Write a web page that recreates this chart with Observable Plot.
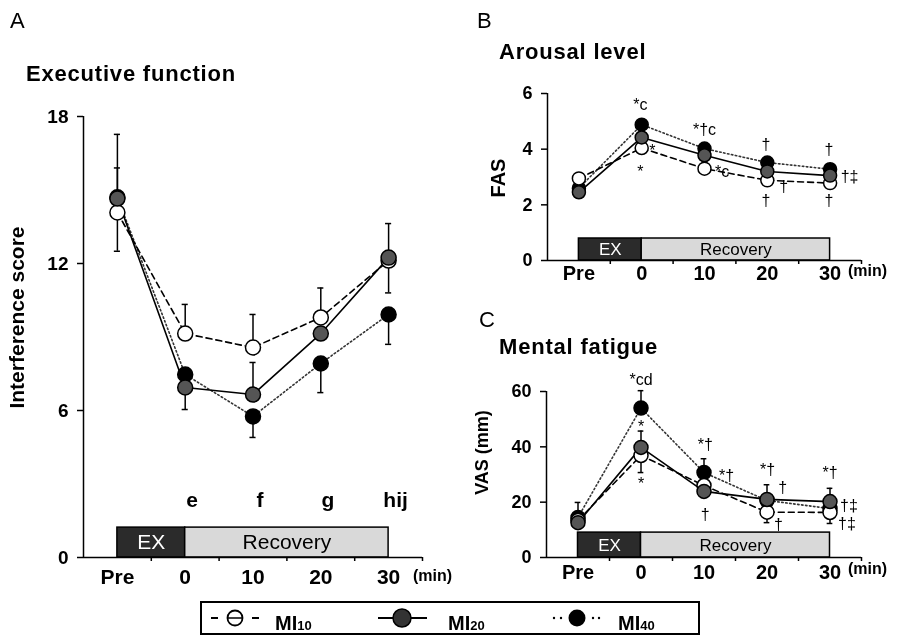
<!DOCTYPE html>
<html><head><meta charset="utf-8">
<script src="https://cdn.jsdelivr.net/npm/d3@7"></script>
<script src="https://cdn.jsdelivr.net/npm/@observablehq/plot@0.6"></script>
<style>
html,body{margin:0;padding:0;background:#fff;}
#root{position:relative;width:898px;height:636px;overflow:hidden;font-family:"Liberation Sans",Arial,sans-serif;color:#000;background:#fff;}
.abs{position:absolute;white-space:nowrap;line-height:1;}
.title{font-weight:bold;font-size:22px;letter-spacing:0.8px;}
.letter{font-size:22px;}
.unit{font-weight:bold;font-size:16px;}
.panel{position:absolute;will-change:transform;}
.panel svg{display:block;overflow:visible;}
.lg{font-weight:bold;font-size:20px;}
.lg sub{font-size:13px;vertical-align:baseline;position:relative;top:0;}
</style></head><body><div id="root"></div>
<script>
// ---------- shared categories ----------
const times = ["Pre", "0", "10", "20", "30"];
const series = ["MI10", "MI20", "MI40"];
const phaseLabels = ["EX", "Recovery"];
const phaseStart = [0, 1];
const phaseEnd = [1, 4];

// ---------- A: Executive function (Interference score) ----------
const aMI10 = [14.08, 9.14, 8.57, 9.80, 12.12];
const aMI20 = [14.65, 6.94, 6.65, 9.14, 12.24];
const aMI40 = [14.70, 7.47, 5.76, 7.92, 9.92];
const aUpMI10 = [null, 1.19, 1.35, 1.20, null];
const aDnMI10 = [1.58, null, null, null, 1.32];
const aUpMI20 = [1.25, null, 1.31, null, 1.39];
const aDnMI20 = [null, 0.90, null, null, null];
const aUpMI40 = [2.57, null, null, null, null];
const aDnMI40 = [null, null, 0.86, 1.19, 1.22];
const aLetters = ["", "e", "f", "g", "hij"];

// ---------- B: Arousal level (FAS) ----------
const bMI10 = [2.95, 4.04, 3.30, 2.88, 2.78];
const bMI20 = [2.45, 4.42, 3.78, 3.20, 3.05];
const bMI40 = [2.60, 4.88, 4.02, 3.52, 3.28];
const bNoteText = ["*c", "*", "*", "*†c", "*c", "†", "†", "†", "†", "†‡", "†"];
const bNoteX = [0.98, 1.17, 0.98, 2.0, 2.28, 2.98, 3.26, 2.98, 3.98, 4.31, 3.98];
const bNoteY = [5.6, 3.94, 3.2, 4.7, 3.2, 4.15, 2.66, 2.14, 3.97, 3.02, 2.15];

// ---------- C: Mental fatigue (VAS, mm) ----------
const cMI10 = [13.4, 36.9, 26.0, 16.4, 16.3];
const cMI20 = [12.6, 39.8, 23.9, 21.0, 20.2];
const cMI40 = [14.5, 54.0, 30.7, 20.6, 17.7];
const cUpMI10 = [null, null, null, null, null];
const cDnMI10 = [null, 6.2, 4.3, 3.8, 4.0];
const cUpMI20 = [null, 5.9, null, 5.3, 4.8];
const cDnMI20 = [null, null, null, null, null];
const cUpMI40 = [5.4, 6.3, 5.0, null, null];
const cDnMI40 = [null, null, null, null, null];
const cNoteText = ["*cd", "*", "*", "*†", "*†", "†", "*†", "†", "†", "*†", "†‡", "†‡"];
const cNoteX = [1.0, 1.0, 1.0, 2.02, 2.36, 2.02, 3.01, 3.25, 3.18, 4.0, 4.3, 4.27];
const cNoteY = [64.3, 47.3, 26.7, 40.8, 29.6, 15.4, 31.8, 25.1, 11.7, 30.7, 18.8, 12.3];

const FONT = '"Liberation Sans", Arial, sans-serif';
const root = document.getElementById("root");
const none5 = () => [null, null, null, null, null];

function makePanel(cfg) {
  const styles = [
    {fill: "white", dash: "6,4", stroke: "#000"},
    {fill: "#555", dash: null, stroke: "#000"},
    {fill: "#000", dash: "1.5,2.5", stroke: "#333"}
  ];
  const order = [2, 0, 1];
  const rows = k => cfg.values[k].map((v, i) => ({i, v, s: series[k]}));
  const errs = [];
  for (let k = 0; k < 3; k++) for (let i = 0; i < times.length; i++) {
    const v = cfg.values[k][i], u = cfg.up[k][i], d = cfg.dn[k][i];
    if (u != null) errs.push({i, y1: v, y2: v + u});
    if (d != null) errs.push({i, y1: v, y2: v - d});
  }
  const phases = phaseLabels.map((l, j) => ({label: l, x1: phaseStart[j], x2: phaseEnd[j]}));
  const marks = [
    Plot.rect(phases.slice(0, 1), {x1: "x1", x2: "x2", y1: 0, y2: cfg.barTop, fill: "#2b2b2b", stroke: "#000", strokeWidth: 1.5}),
    Plot.rect(phases.slice(1), {x1: "x1", x2: "x2", y1: 0, y2: cfg.barTop, fill: "#d9d9d9", stroke: "#000", strokeWidth: 1.5}),
    Plot.text(phases.slice(0, 1), {x: d => (d.x1 + d.x2) / 2, y: cfg.barTop / 2, text: "label", fill: "white", fontSize: cfg.barFont, lineAnchor: "middle"}),
    Plot.text(phases.slice(1), {x: d => (d.x1 + d.x2) / 2, y: cfg.barTop / 2, text: "label", fill: "#000", fontSize: cfg.barFont, lineAnchor: "middle"}),
    Plot.ruleX([-0.5], {stroke: "#000", strokeWidth: 1.5}),
    Plot.ruleY([0], {stroke: "#000", strokeWidth: 1.5}),
    Plot.axisY({ticks: cfg.yTicks, tickSize: 6, tickPadding: cfg.yPad, tickFormat: d => String(d), fontSize: cfg.yFont, fontWeight: "bold", label: null, strokeWidth: 1.5, fill: "#000"}),
    Plot.axisX({ticks: [0.5, 1.5, 2.5, 3.5, 4.5], tickSize: 4, tickFormat: () => "", label: null, strokeWidth: 1.5}),
    Plot.axisX({ticks: [0, 1, 2, 3, 4], tickSize: 0, tickPadding: cfg.xPad, tickFormat: i => times[i], fontSize: cfg.xFont, fontWeight: "bold", label: null, fill: "#000"})
  ];
  for (const k of order) marks.push(Plot.line(rows(k), {x: "i", y: "v", stroke: styles[k].stroke, strokeWidth: 1.6, strokeDasharray: styles[k].dash}));
  marks.push(Plot.ruleX(errs, {x: "i", y1: "y1", y2: "y2", stroke: "#000", strokeWidth: 1.5}));
  marks.push(Plot.ruleY(errs, {y: "y2", x1: d => d.i - 0.045, x2: d => d.i + 0.045, stroke: "#000", strokeWidth: 1.5}));
  for (const k of order) marks.push(Plot.dot(rows(k), {x: "i", y: "v", r: cfg.r, fill: styles[k].fill, stroke: "#000", strokeWidth: 1.5}));
  if (cfg.notes) marks.push(Plot.text(cfg.notes, {x: "x", y: "y", text: "t", fontSize: cfg.noteFont, fontWeight: cfg.noteWeight || "normal", lineAnchor: "middle", dx: cfg.noteDx || 0, fill: "#000"}));
  marks.push(Plot.text([cfg.ylabel], {frameAnchor: "left", text: d => d, rotate: -90, textAnchor: "middle", lineAnchor: "middle", dx: cfg.ylDx, dy: cfg.ylDy, fontSize: cfg.ylFont, fontWeight: "bold", fill: "#000"}));
  const svg = Plot.plot({
    width: cfg.width, height: cfg.height,
    marginTop: cfg.mt, marginBottom: cfg.mb, marginLeft: cfg.ml, marginRight: cfg.mr,
    x: {domain: [-0.5, 4.5]},
    y: {domain: cfg.yDomain},
    style: {fontFamily: FONT, background: "transparent", color: "#000", overflow: "visible"},
    marks
  });
  const div = document.createElement("div");
  div.className = "panel";
  div.style.left = cfg.left + "px"; div.style.top = cfg.top + "px";
  div.style.width = cfg.width + "px"; div.style.height = cfg.height + "px";
  div.appendChild(svg);
  root.appendChild(div);
}

// Panel A
makePanel({
  left: 0, top: 0, width: 450, height: 600, mt: 116, mb: 43, ml: 83, mr: 28,
  values: [aMI10, aMI20, aMI40],
  up: [aUpMI10, aUpMI20, aUpMI40], dn: [aDnMI10, aDnMI20, aDnMI40],
  yDomain: [0, 18], yTicks: [0, 6, 12, 18], yFont: 19, yPad: 9, xFont: 21, xPad: 12,
  barTop: 1.22, barFont: 21, r: 7.5,
  notes: aLetters.map((t, i) => ({x: i, y: 2.34, t})).filter(d => d.t), noteFont: 21, noteWeight: "bold", noteDx: 7,
  ylabel: "Interference score", ylDx: -66, ylDy: -19.5, ylFont: 21
});
// Panel B
makePanel({
  left: 450, top: 0, width: 448, height: 300, mt: 93, mb: 40, ml: 97, mr: 37,
  values: [bMI10, bMI20, bMI40],
  up: [none5(), none5(), none5()], dn: [none5(), none5(), none5()],
  yDomain: [0, 6], yTicks: [0, 2, 4, 6], yFont: 18, yPad: 9, xFont: 20, xPad: 5,
  barTop: 0.79, barFont: 17, r: 6.5,
  notes: bNoteText.map((t, j) => ({x: bNoteX[j], y: bNoteY[j], t})), noteFont: 16,
  ylabel: "FAS", ylDx: -49, ylDy: 1, ylFont: 20
});
// Panel C
makePanel({
  left: 450, top: 300, width: 448, height: 300, mt: 91, mb: 43, ml: 96, mr: 37,
  values: [cMI10, cMI20, cMI40],
  up: [cUpMI10, cUpMI20, cUpMI40], dn: [cDnMI10, cDnMI20, cDnMI40],
  yDomain: [0, 60], yTicks: [0, 20, 40, 60], yFont: 18, yPad: 9, xFont: 20, xPad: 7,
  barTop: 9.0, barFont: 17, r: 7,
  notes: cNoteText.map((t, j) => ({x: cNoteX[j], y: cNoteY[j], t})), noteFont: 16,
  ylabel: "VAS (mm)", ylDx: -64, ylDy: -22, ylFont: 18
});

// ---------- titles and labels ----------
function addText(txt, cls, left, top) {
  const d = document.createElement("div");
  d.className = "abs " + cls;
  d.style.left = left + "px"; d.style.top = top + "px";
  d.innerHTML = txt;
  root.appendChild(d);
}
addText("A", "letter", 10, 10);
addText("B", "letter", 477, 10);
addText("C", "letter", 479, 309);
addText("Executive function", "title", 26, 63);
addText("Arousal level", "title", 499, 41);
addText("Mental fatigue", "title", 499, 336);
addText("(min)", "unit", 413, 568);
addText("(min)", "unit", 848, 263);
addText("(min)", "unit", 848, 561);

// ---------- legend ----------
const lg = document.createElement("div");
lg.style.cssText = "position:absolute;left:200px;top:601px;width:500px;height:34px;border:2px solid #000;box-sizing:border-box;";
root.appendChild(lg);
const ns = "http://www.w3.org/2000/svg";
const icon = document.createElementNS(ns, "svg");
icon.setAttribute("width", 898); icon.setAttribute("height", 636);
icon.style.cssText = "position:absolute;left:0;top:0;pointer-events:none;";
function el(tag, attrs) { const e = document.createElementNS(ns, tag); for (const k in attrs) e.setAttribute(k, attrs[k]); icon.appendChild(e); return e; }
const cy = 618;
// MI10
el("line", {x1: 211, x2: 218, y1: cy, y2: cy, stroke: "#000", "stroke-width": 2});
el("line", {x1: 252, x2: 259, y1: cy, y2: cy, stroke: "#000", "stroke-width": 2});
el("circle", {cx: 235, cy, r: 7.5, fill: "white", stroke: "#000", "stroke-width": 1.8});
el("line", {x1: 228, x2: 242, y1: cy, y2: cy, stroke: "#000", "stroke-width": 1.5});
// MI20
el("line", {x1: 378, x2: 427, y1: cy, y2: cy, stroke: "#000", "stroke-width": 2});
el("circle", {cx: 402, cy, r: 9, fill: "#333", stroke: "#000", "stroke-width": 1.5});
// MI40
for (const x of [554, 561, 593, 599]) el("circle", {cx: x, cy, r: 1.2, fill: "#000"});
el("circle", {cx: 577, cy, r: 8.5, fill: "#000"});
root.appendChild(icon);
addText("MI<sub>10</sub>", "lg", 275, 613);
addText("MI<sub>20</sub>", "lg", 448, 613);
addText("MI<sub>40</sub>", "lg", 618, 613);
</script></body></html>
